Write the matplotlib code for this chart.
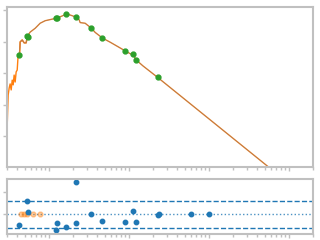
import matplotlib
matplotlib.use("Agg")
import matplotlib.pyplot as plt

# measured curve (noisy data line)
line_x = [0.301, 0.310, 0.319, 0.328, 0.338, 0.348, 0.358, 0.368, 0.379, 0.390, 0.402,
          0.413, 0.429, 0.438, 0.464, 0.491, 0.520, 0.540]
line_y = [-37.0, -26.9, -24.7, -23.4, -25.3, -22.2, -23.7, -20.6, -22.8, -19.6, -19.0,
          -14.2, -14.2, -10.1, -9.5, -10.4, -10.4, -8.2]

# smooth model line
model_x = [0.429, 0.438, 0.464, 0.491, 0.520, 0.540, 0.584, 0.674, 0.778, 0.899, 1.245,
           1.466, 1.66, 1.846, 2.213, 2.40, 2.46, 2.84, 3.41, 3.79, 4.68, 5.84, 7.4,
           9.07, 11.4, 12.45, 15.0, 22.8, 583]
model_y = [-14.2, -10.1, -9.5, -10.4, -10.4, -8.2, -7.0, -5.8, -4.2, -3.4, -2.6,
           -1.9, -1.27, -1.6, -2.3, -3.2, -4.0, -4.2, -5.8, -7.1, -8.9, -10.2, -11.7,
           -13.0, -14.4, -15.9, -17.7, -21.3, -50.1]

# sample points
pts_x = [0.429, 0.540, 0.556, 1.245, 1.281, 1.66, 2.213, 3.41, 4.68, 9.07, 11.4, 12.45, 22.8]
pts_y = [-14.3, -8.3, -8.6, -2.6, -2.5, -1.27, -2.3, -5.8, -8.9, -13.0, -13.8, -15.9, -21.3]

# residuals
res_x = [0.429, 0.540, 0.556, 1.245, 1.281, 1.66, 2.213, 2.213, 3.41, 4.68, 9.07, 11.4,
         12.45, 22.8, 23.5, 60.1, 101.7]
res_y = [-0.487, 0.588, 0.088, -0.708, -0.398, -0.562, 1.429, -0.398, 0.0, -0.296, -0.341,
         0.146, -0.341, -0.044, 0.0, 0.0, 0.0]
skip_x = [0.446, 0.482, 0.531, 0.642, 0.778]
skip_y = [0.0, 0.0, 0.0, 0.0, 0.0]
band = 0.585

fig = plt.figure(figsize=(3.2, 2.4), dpi=100)
ax1 = fig.add_axes([0.022, 0.304, 0.956, 0.667])
ax2 = fig.add_axes([0.022, 0.025, 0.956, 0.229])

ax1.plot(line_x, line_y, color='#ff7f0e', lw=1.0)
ax1.plot(model_x, model_y, color='#f0953a', lw=1.0)
ax1.plot(model_x, model_y, color='#8c564b', lw=0.6, alpha=0.5)
ax1.plot(pts_x, pts_y, 'o', color='#2ca02c', ms=3.5)
ax1.set_ylim(-49.7, 0.95)
ax1.set_yticks([0, -10, -20, -30, -40])

ax2.axhline(band, color='#1f77b4', ls='--', lw=1)
ax2.axhline(-band, color='#1f77b4', ls='--', lw=1)
ax2.axhline(0, color='#1f77b4', ls=':', lw=1, alpha=0.8)
ax2.plot(skip_x, skip_y, 'o', color='#ff7f0e', ms=3.5, alpha=0.4)
ax2.plot(res_x, res_y, 'o', color='#1f77b4', ms=3.2)
ax2.set_ylim(-0.87, 1.56)
ax2.set_yticks([0, 1])

for ax in (ax1, ax2):
    ax.set_xscale('log')
    ax.set_xlim(0.3, 2000)
    for s in ax.spines.values():
        s.set_color('#c0c0c0')
        s.set_linewidth(1.5)
    ax.tick_params(which='both', colors='#c0c0c0', labelbottom=False, labelleft=False,
                   length=2, width=1)
    ax.tick_params(which='major', length=3)

fig.savefig('out.png', dpi=100)
